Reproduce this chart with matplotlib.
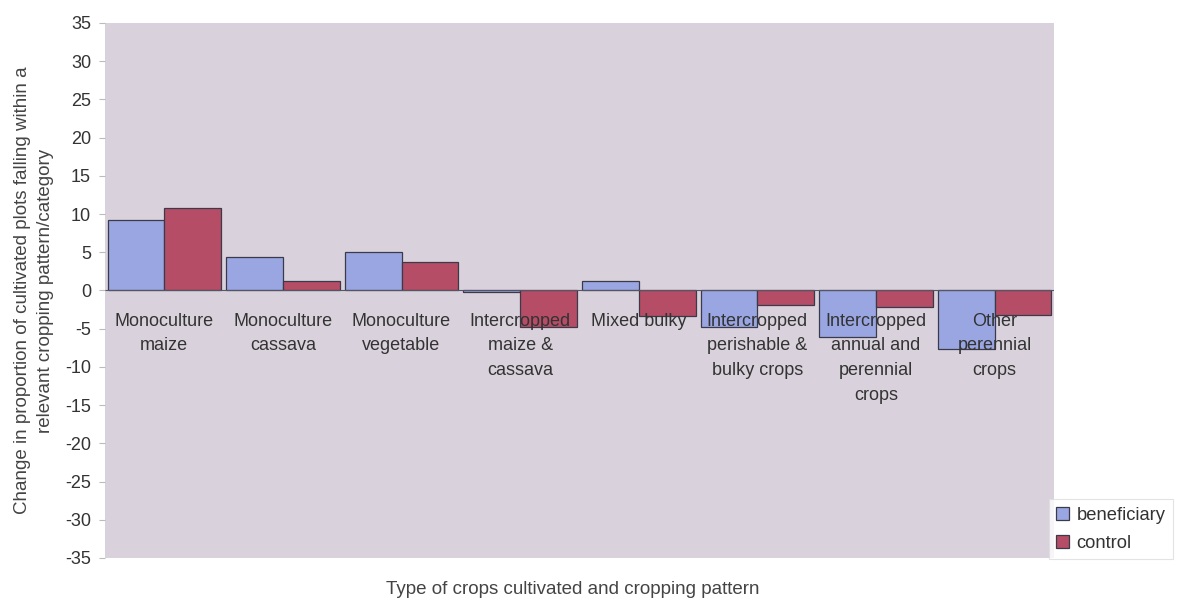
import matplotlib
matplotlib.use("Agg")
import matplotlib.pyplot as plt
import numpy as np

plt.rcParams['font.family'] = ['Liberation Sans', 'DejaVu Sans']

categories = ["Monoculture\nmaize", "Monoculture\ncassava", "Monoculture\nvegetable",
              "Intercropped\nmaize &\ncassava", "Mixed bulky",
              "Intercropped\nperishable &\nbulky crops", "Intercropped\nannual and\nperennial\ncrops",
              "Other\nperennial\ncrops"]
beneficiary = [9.25, 4.35, 5.1, -0.2, 1.25, -4.75, -6.1, -7.6]
control = [10.8, 1.2, 3.7, -4.8, -3.4, -1.9, -2.15, -3.25]
yticks = list(range(-35, 40, 5))

fig = plt.figure(figsize=(11.77, 6.02), dpi=100)
fig.patch.set_facecolor('white')
ax = fig.add_axes([0.0892, 0.0731, 0.8063, 0.8887])
ax.set_facecolor('#d9d2dc')

x = np.arange(len(categories))
w = 0.478
ax.bar(x - w/2, beneficiary, w, color='#9aa6e2', edgecolor='#3a3a4a', linewidth=0.9, label='beneficiary')
ax.bar(x + w/2, control, w, color='#b64d66', edgecolor='#3a3a4a', linewidth=0.9, label='control')

ax.set_xlim(-0.5, len(categories) - 0.5)
ax.set_ylim(-35, 35)
ax.set_yticks(yticks)
ax.set_yticklabels([str(v) for v in yticks], fontsize=13, color='#333333')
ax.set_xticks([])
ax.tick_params(axis='y', length=4, color='#bbbbbb', pad=6)
for s in ax.spines.values():
    s.set_visible(False)
ax.axhline(0, color='#555566', linewidth=0.8, zorder=1)

for xi, lab in zip(x, categories):
    ax.text(xi, -2.9, lab, ha='center', va='top', fontsize=13, color='#333333',
            linespacing=1.6, zorder=5)

ax.set_ylabel("Change in proportion of cultivated plots falling within a\nrelevant cropping pattern/category",
              fontsize=13.5, color='#444444', linespacing=1.45, labelpad=8)
fig.text(0.487, 0.02, "Type of crops cultivated and cropping pattern", ha='center', va='center',
         fontsize=13.5, color='#444444')

leg = fig.legend(loc='lower left', bbox_to_anchor=(1049/1177, (602-559)/602), fontsize=13.2,
                 handlelength=0.7, handleheight=0.7, handletextpad=0.4, frameon=True,
                 fancybox=False, edgecolor='#dddddd', borderpad=0.4, labelspacing=0.6,
                 borderaxespad=0)
leg.get_frame().set_linewidth(0.8)
for t in leg.get_texts():
    t.set_color('#333333')

fig.savefig('out.png', dpi=100, facecolor='white')
